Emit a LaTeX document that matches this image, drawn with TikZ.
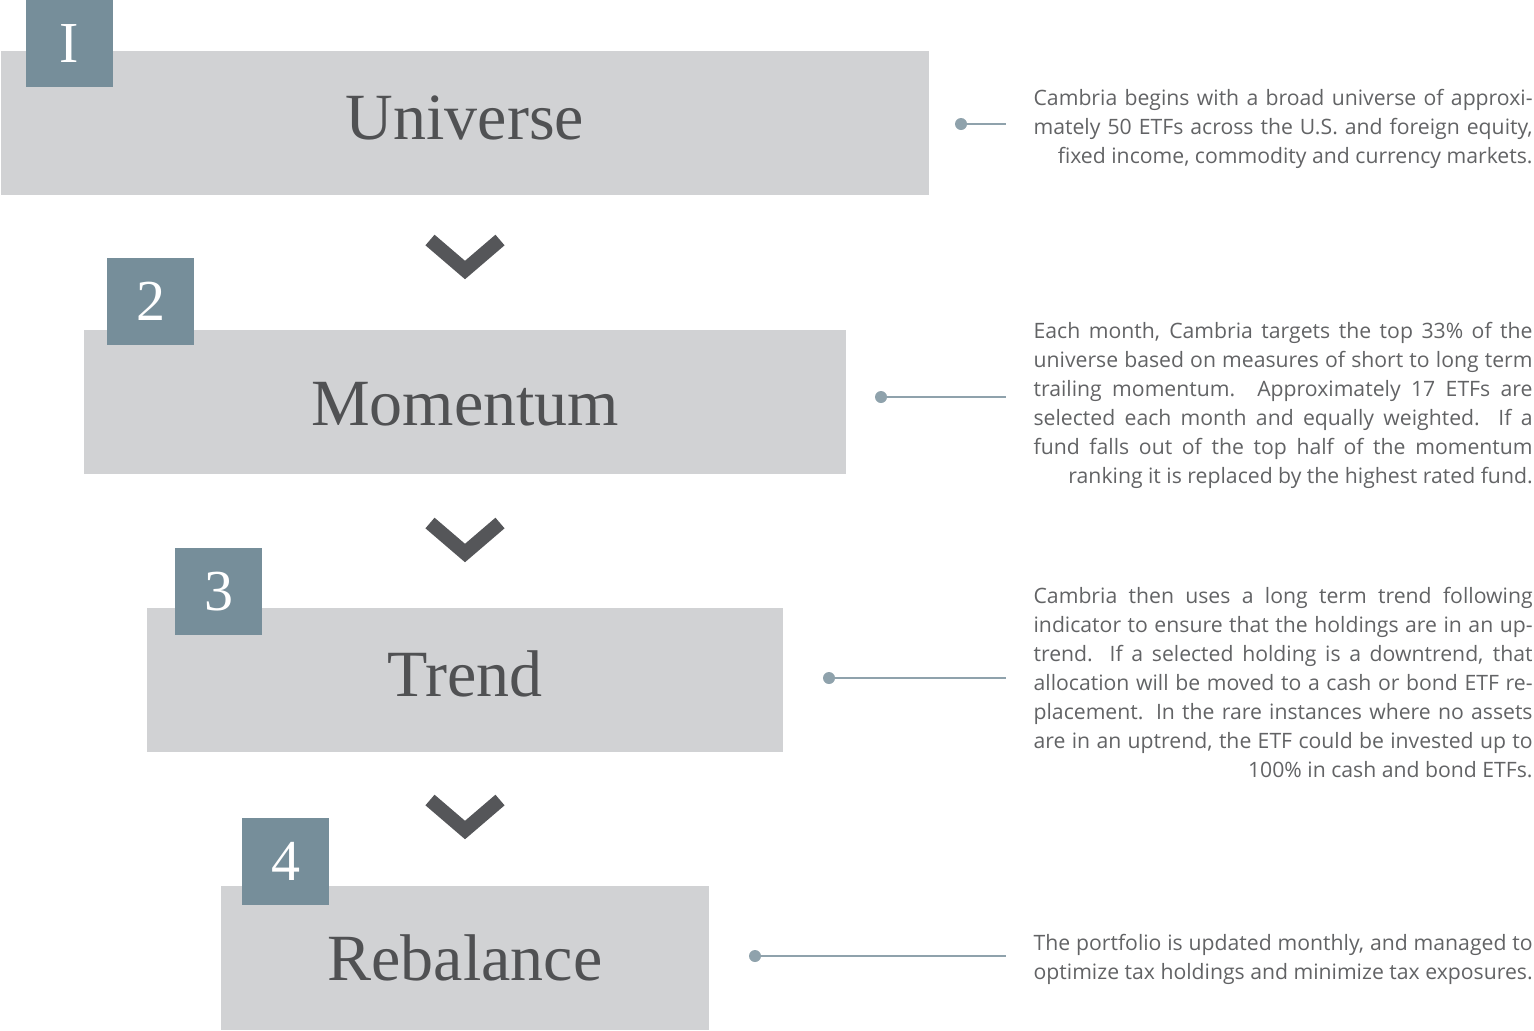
\documentclass[tikz,border=0pt]{standalone}
\usepackage{fontspec}
\setmainfont{Liberation Serif}
\newfontfamily\descfont{Open Sans}
\usetikzlibrary{positioning}

\definecolor{boxgray}{HTML}{D1D2D4}
\definecolor{badgeblue}{HTML}{768E9A}
\definecolor{titlegray}{HTML}{505153}
\definecolor{chevgray}{HTML}{555659}
\definecolor{linegray}{HTML}{8FA2AC}
\definecolor{textgray}{HTML}{626365}

\setlength{\parindent}{0pt}
% last line of a description sits flush right
\newcommand{\lastline}{\linebreak\hspace*{\fill}}

\begin{document}
\begin{tikzpicture}[
    x=0.5pt, y=-0.5pt,
    stepbox/.style={
        rectangle,
        fill=boxgray,
        minimum height=72pt,
        inner sep=0pt
    },
    steptitle/.style={
        text=titlegray,
        font=\fontsize{33}{36}\selectfont,
        inner sep=0pt
    },
    badge/.style={
        rectangle,
        fill=badgeblue,
        text=white,
        font=\fontsize{29}{30}\selectfont,
        minimum width=43.5pt,
        minimum height=43.5pt,
        inner sep=0pt
    },
    chevron/.style={
        draw=chevgray,
        line width=7pt,
        line cap=butt,
        line join=miter
    },
    leader/.style={
        draw=linegray,
        line width=1pt
    },
    desc/.style={
        anchor=east,
        text=textgray,
        text width=249.5pt,
        align=justify,
        inner sep=0pt,
        font=\descfont\fontsize{10.6}{14.5}\selectfont
    }
]
\useasboundingbox (0,0) rectangle (1534,1030);

% steps
\node[stepbox, minimum width=464pt] (universe) at (465,123) {};
\node[stepbox, minimum width=381pt] (momentum) at (465,402) {};
\node[stepbox, minimum width=318pt] (trend) at (465,680) {};
\node[stepbox, minimum width=244pt] (rebalance) at (465,958) {};

\node[steptitle] (t1) at (465,118) {Universe};
\node[steptitle] (t2) at (465,404) {Momentum};
\node[steptitle] (t3) at (465,674) {Trend};
\node[steptitle] (t4) at (465,958) {Rebalance};

% number badges
\node[badge] (badge1) at (69.5,43.5) {I};
\node[badge] (badge2) at (150.5,301.5) {2};
\node[badge] (badge3) at (218.5,591.5) {3};
\node[badge] (badge4) at (285.5,861.5) {4};

% chevrons between the steps
\foreach \cy in {258,541,818}
    \draw[chevron] (430,\cy-18) -- (465,\cy+12) -- (500,\cy-18);

% descriptions
\node[desc] (desc1) at (1533,129) {%
Cambria begins with a broad universe of approxi-\linebreak
mately 50 ETFs across the U.S. and foreign equity,\lastline
fixed income, commodity and currency markets.};

\node[desc] (desc2) at (1533,405) {%
Each month, Cambria targets the top 33\% of the\linebreak
universe based on measures of short to long term\linebreak
trailing momentum. Approximately 17 ETFs are\linebreak
selected each month and equally weighted. If a\linebreak
fund falls out of the top half of the momentum\lastline
ranking it is replaced by the highest rated fund.};

\node[desc] (desc3) at (1533,683) {%
Cambria then uses a long term trend following\linebreak
indicator to ensure that the holdings are in an up-\linebreak
trend. If a selected holding is a downtrend, that\linebreak
allocation will be moved to a cash or bond ETF re-\linebreak
placement. In the rare instances where no assets\linebreak
are in an uptrend, the ETF could be invested up to\lastline
100\% in cash and bond ETFs.};

\node[desc] (desc4) at (1533,959) {%
The portfolio is updated monthly, and managed to\lastline
optimize tax holdings and minimize tax exposures.};

% leader lines
\coordinate (dot1) at (961,124);
\coordinate (end1) at (1006,124);
\coordinate (dot2) at (881,397);
\coordinate (end2) at (1006,397);
\coordinate (dot3) at (829,678);
\coordinate (end3) at (1006,678);
\coordinate (dot4) at (755,956);
\coordinate (end4) at (1006,956);
\foreach \i in {1,...,4} {
    \draw[leader] (dot\i) -- (end\i);
    \fill[linegray] (dot\i) circle (6);
}

\end{tikzpicture}
\end{document}
